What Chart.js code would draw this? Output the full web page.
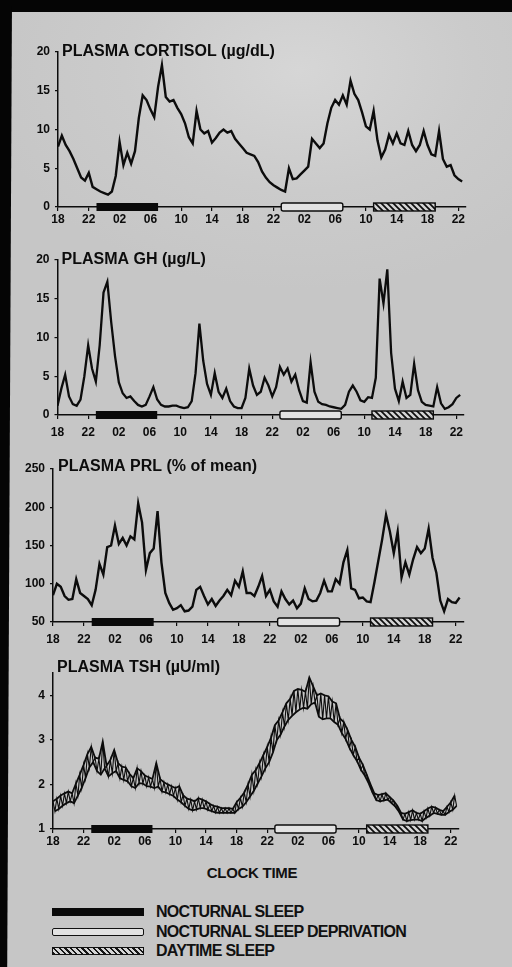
<!DOCTYPE html>
<html>
<head>
<meta charset="utf-8">
<title>Plasma hormone profiles</title>
<script src="https://cdn.jsdelivr.net/npm/chart.js@4.4.0/dist/chart.umd.min.js"></script>
<style>
  html, body { margin: 0; padding: 0; }
  body {
    width: 512px; height: 967px; position: relative; overflow: hidden;
    background: radial-gradient(ellipse 320px 220px at 300px 70px, #d6d6d6 0%, #cbcbcb 55%, rgba(199,199,199,0) 100%), #c6c6c6;
    font-family: "Liberation Sans", Arial, sans-serif; color: #111;
  }
  .frame { position: absolute; background: #050505; }
  canvas.panel { position: absolute; left: 0; }
  #clockTime {
    position: absolute; left: 152px; width: 200px; top: 864px;
    text-align: center; font-weight: bold; font-size: 15px; letter-spacing: -0.3px;
  }
  .legend-row { position: absolute; left: 52px; height: 20px; }
  .legend-row .swatch {
    position: absolute; left: 0; top: 6px; width: 92px; height: 8px; box-sizing: border-box;
  }
  .legend-row .label {
    position: absolute; left: 104px; top: 0; line-height: 20px; white-space: nowrap;
    font-weight: bold; font-size: 16px; letter-spacing: -0.7px;
  }
  .sw-night { background: #0a0a0a; }
  .sw-deprived { background: #e2e2e2; border: 1.5px solid #111; border-radius: 2px; }
  .sw-day { border: 1.5px solid #111; background: repeating-linear-gradient(45deg, #151515 0 1.6px, #d4d4d4 1.6px 4px); }
</style>
</head>
<body>
<div class="frame" style="left:0;top:0;width:512px;height:12px"></div>
<div class="frame" style="left:0;top:0;width:12px;height:967px;clip-path:polygon(0 0,100% 0,60% 100%,0 100%)"></div>

<canvas id="cortisol" class="panel" width="512" height="192" style="top:38px"></canvas>
<canvas id="gh" class="panel" width="512" height="194" style="top:246px"></canvas>
<canvas id="prl" class="panel" width="512" height="190" style="top:455px"></canvas>
<canvas id="tsh" class="panel" width="512" height="194" style="top:656px"></canvas>

<div id="clockTime">CLOCK TIME</div>
<div id="legend"></div>

<script>
// hours since 18:00 on the first evening, one sample every half hour
const SAMPLE_STEP_H = 0.5;
const X_MAX_H = 53;

const TICK_HOURS = [0, 4, 8, 12, 16, 20, 24, 28, 32, 36, 40, 44, 48, 52];
const CLOCK_LABELS = ['18', '22', '02', '06', '10', '14', '18', '22', '02', '06', '10', '14', '18', '22'];

// sleep condition bars along the time axis
const SLEEP_START = [5, 29, 41];
const SLEEP_END = [13, 37, 49];
const SLEEP_KIND = ['night', 'deprived', 'day'];
const LEGEND_LABELS = ['NOCTURNAL SLEEP', 'NOCTURNAL SLEEP DEPRIVATION', 'DAYTIME SLEEP'];

const TITLES = ['PLASMA CORTISOL (\u00b5g/dL)', 'PLASMA GH (\u00b5g/L)', 'PLASMA PRL (% of mean)', 'PLASMA TSH (\u00b5U/ml)'];

const CORTISOL_TICKS = [0, 5, 10, 15, 20];
const GH_TICKS = [0, 5, 10, 15, 20];
const PRL_TICKS = [50, 100, 150, 200, 250];
const TSH_TICKS = [1, 2, 3, 4];

const CORTISOL = [
  7.8, 9.2, 8.0, 7.2, 6.2, 5.0, 3.8, 3.4, 4.4, 2.6,
  2.3, 2.0, 1.8, 1.6, 2.0, 4.0, 8.4, 5.4, 7.0, 5.6,
  7.2, 11.5, 14.4, 13.8, 12.6, 11.6, 15.5, 18.3, 14.2, 13.6,
  13.8, 12.8, 12.0, 10.8, 9.0, 8.2, 12.4, 10.0, 9.5, 9.8,
  8.3, 8.9, 9.6, 10.0, 9.6, 9.8, 8.8, 8.2, 7.6, 7.0,
  6.8, 6.6, 5.8, 4.6, 3.8, 3.2, 2.8, 2.5, 2.2, 2.0,
  5.0, 3.6, 3.7, 4.2, 4.7, 5.2, 8.8, 8.2, 7.6, 8.2,
  10.8, 12.8, 13.8, 13.2, 14.4, 13.2, 16.3, 14.6, 13.8, 12.2,
  10.4, 10.0, 12.4, 8.6, 6.4, 7.4, 9.3, 8.2, 9.5, 8.2,
  8.0, 9.8, 8.0, 7.2, 8.0, 9.8, 8.0, 6.8, 6.6, 9.8,
  6.2, 5.2, 5.4, 4.1, 3.6, 3.3
];

const GH = [
  1.2, 3.4, 5.2, 2.4, 1.4, 1.2, 2.0, 5.0, 9.0, 6.0,
  4.3, 9.0, 15.8, 17.2, 12.0, 7.6, 4.2, 2.8, 2.2, 2.4,
  1.8, 1.3, 1.1, 1.3, 2.4, 3.6, 2.0, 1.3, 1.1, 1.1,
  1.2, 1.2, 1.0, 0.9, 1.0, 1.8, 5.4, 11.8, 7.0, 4.0,
  2.6, 5.4, 3.0, 2.2, 3.4, 1.8, 1.1, 0.9, 0.9, 2.2,
  6.0, 3.8, 2.6, 3.0, 4.8, 3.8, 2.4, 3.6, 6.2, 5.2,
  6.0, 4.3, 5.2, 3.2, 1.8, 1.6, 6.8, 3.0, 1.7, 1.4,
  1.3, 1.1, 1.0, 0.9, 0.8, 1.3, 3.0, 3.8, 3.0, 1.9,
  1.7, 2.3, 2.2, 4.8, 17.6, 14.4, 18.8, 8.0, 3.4, 1.8,
  4.3, 2.2, 2.6, 6.6, 3.2, 1.7, 1.3, 1.2, 1.1, 3.6,
  1.5, 0.8, 1.0, 1.4, 2.2, 2.6
];

const PRL = [
  85, 100, 96, 84, 79, 80, 106, 88, 84, 80,
  72, 92, 126, 112, 148, 150, 176, 152, 160, 150,
  162, 158, 205, 180, 118, 140, 146, 195, 128, 88,
  75, 66, 68, 72, 64, 65, 70, 92, 96, 84,
  73, 80, 71, 78, 84, 92, 85, 104, 96, 116,
  88, 88, 84, 96, 110, 84, 92, 77, 70, 90,
  80, 73, 78, 68, 74, 94, 80, 77, 78, 88,
  104, 90, 90, 106, 100, 128, 144, 94, 92, 81,
  82, 77, 76, 102, 130, 158, 190, 168, 140, 168,
  108, 128, 112, 132, 148, 140, 146, 172, 134, 114,
  78, 64, 80, 76, 75, 82
];

// TSH pulses: top and bottom of each half-hour swing
const TSH_HIGH = [
  1.62, 1.68, 1.75, 1.80, 1.84, 1.80, 2.02, 2.22, 2.44, 2.68,
  2.84, 2.60, 2.58, 2.96, 2.42, 2.55, 2.77, 2.48, 2.40, 2.38,
  2.24, 2.14, 2.36, 2.30, 2.20, 2.16, 2.12, 2.48, 2.12, 2.05,
  2.00, 1.96, 1.92, 1.96, 1.76, 1.68, 1.66, 1.62, 1.69, 1.66,
  1.62, 1.56, 1.52, 1.50, 1.47, 1.47, 1.47, 1.45, 1.60, 1.70,
  1.82, 2.00, 2.22, 2.32, 2.48, 2.66, 2.84, 3.05, 3.33, 3.44,
  3.62, 3.82, 3.92, 4.10, 4.14, 4.12, 4.08, 4.40, 4.20, 4.00,
  4.04, 4.00, 3.98, 3.86, 3.82, 3.48, 3.40, 3.22, 3.00, 2.84,
  2.60, 2.44, 2.22, 2.00, 1.80, 1.76, 1.78, 1.80, 1.72, 1.64,
  1.52, 1.36, 1.34, 1.38, 1.42, 1.36, 1.34, 1.40, 1.46, 1.50,
  1.48, 1.43, 1.40, 1.50, 1.60, 1.75
];
const TSH_LOW = [
  1.40, 1.45, 1.52, 1.58, 1.62, 1.58, 1.75, 1.92, 2.14, 2.38,
  2.50, 2.30, 2.22, 2.36, 2.18, 2.25, 2.30, 2.14, 2.10, 2.07,
  1.96, 1.92, 2.03, 2.02, 1.96, 1.95, 1.92, 1.95, 1.84, 1.82,
  1.78, 1.74, 1.66, 1.60, 1.52, 1.45, 1.42, 1.44, 1.47, 1.47,
  1.43, 1.40, 1.37, 1.36, 1.36, 1.36, 1.36, 1.36, 1.45, 1.50,
  1.60, 1.73, 1.86, 2.02, 2.18, 2.36, 2.50, 2.72, 3.00, 3.12,
  3.30, 3.45, 3.54, 3.62, 3.68, 3.72, 3.70, 3.80, 3.84, 3.52,
  3.46, 3.48, 3.48, 3.40, 3.34, 3.15, 3.02, 2.82, 2.66, 2.52,
  2.33, 2.20, 2.03, 1.82, 1.65, 1.62, 1.64, 1.66, 1.58, 1.50,
  1.38, 1.21, 1.18, 1.20, 1.21, 1.21, 1.18, 1.25, 1.30, 1.36,
  1.34, 1.32, 1.32, 1.38, 1.43, 1.52
];

const INK = '#0c0c0c';
const FONT = '"Liberation Sans", Arial, sans-serif';

function toPoints(values, offset = 0) {
  return values.map((v, i) => ({ x: i * SAMPLE_STEP_H + offset, y: v }));
}

// high sample on the half hour, low sample a quarter hour later
function swingPoints(high, low) {
  const pts = [];
  high.forEach((v, i) => {
    pts.push({ x: i * SAMPLE_STEP_H, y: v });
    pts.push({ x: i * SAMPLE_STEP_H + SAMPLE_STEP_H / 2, y: low[i] });
  });
  return pts;
}

function lineSet(points, width) {
  return { data: points, borderColor: INK, borderWidth: width, pointRadius: 0, tension: 0, borderJoinStyle: 'miter' };
}

function hatchPattern(ctx) {
  const w = 6;
  const c = document.createElement('canvas');
  c.width = w; c.height = w;
  const g = c.getContext('2d');
  g.fillStyle = '#d4d4d4';
  g.fillRect(0, 0, w, w);
  g.strokeStyle = INK;
  g.lineWidth = 1.7;
  g.beginPath();
  g.moveTo(0, 0); g.lineTo(w, w);
  g.moveTo(-1, w - 1); g.lineTo(1, w + 1);
  g.moveTo(w - 1, -1); g.lineTo(w + 1, 1);
  g.stroke();
  return ctx.createPattern(c, 'repeat');
}

// title text and the sleep bars sitting on the time axis
const panelExtras = {
  id: 'panelExtras',
  afterDraw(chart, args, opts) {
    const { ctx, chartArea } = chart;
    const x = chart.scales.x;
    const yAxis = chartArea.bottom;
    const h = 8;
    ctx.save();
    SLEEP_START.forEach((from, i) => {
      const x1 = x.getPixelForValue(from);
      const x2 = x.getPixelForValue(SLEEP_END[i]);
      const kind = SLEEP_KIND[i];
      ctx.lineWidth = 1.4;
      ctx.strokeStyle = INK;
      if (kind === 'night') {
        ctx.fillStyle = '#0a0a0a';
        ctx.fillRect(x1, yAxis - h / 2, x2 - x1, h);
      } else if (kind === 'deprived') {
        ctx.fillStyle = '#e2e2e2';
        ctx.beginPath();
        ctx.roundRect(x1, yAxis - h / 2, x2 - x1, h, 2);
        ctx.fill();
        ctx.stroke();
      } else {
        ctx.fillStyle = hatchPattern(ctx);
        ctx.fillRect(x1, yAxis - h / 2, x2 - x1, h);
        ctx.strokeRect(x1, yAxis - h / 2, x2 - x1, h);
      }
    });
    ctx.fillStyle = INK;
    ctx.font = 'bold 16px ' + FONT;
    ctx.textBaseline = 'middle';
    ctx.textAlign = 'left';
    ctx.fillText(opts.title, chartArea.left + opts.dx, chartArea.top + opts.dy);
    ctx.restore();
  }
};

function makePanel(id, p) {
  return new Chart(document.getElementById(id), {
    type: 'line',
    data: { datasets: p.datasets },
    options: {
      responsive: false,
      animation: false,
      events: [],
      layout: { padding: { top: p.padTop, right: p.padRight, left: 0, bottom: 0 } },
      plugins: {
        legend: { display: false },
        tooltip: { enabled: false },
        panelExtras: { title: p.title, dx: p.titleDx, dy: p.titleDy }
      },
      scales: {
        x: {
          type: 'linear',
          min: 0,
          max: X_MAX_H,
          afterBuildTicks: s => { s.ticks = TICK_HOURS.map(v => ({ value: v })); },
          afterFit: s => { s.height = p.xHeight; },
          border: { display: true, color: INK, width: 1.5 },
          grid: { drawOnChartArea: false, drawTicks: true, tickLength: 4, color: INK, lineWidth: 1.2 },
          ticks: {
            autoSkip: false,
            maxRotation: 0,
            padding: p.xPad,
            color: INK,
            font: { family: FONT, size: 12, weight: 'bold' },
            callback: v => CLOCK_LABELS[TICK_HOURS.indexOf(v)]
          }
        },
        y: {
          min: p.yMin,
          max: p.yMax,
          afterBuildTicks: s => { s.ticks = p.yTicks.map(v => ({ value: v })); },
          afterFit: s => { s.width = p.left; },
          border: { display: true, color: INK, width: 1.5 },
          grid: { drawOnChartArea: false, drawTicks: true, tickLength: 3, color: INK, lineWidth: 1.2 },
          ticks: {
            padding: 5,
            color: INK,
            font: { family: FONT, size: 12, weight: 'bold' }
          }
        }
      }
    },
    plugins: [panelExtras]
  });
}

makePanel('cortisol', {
  datasets: [lineSet(toPoints(CORTISOL), 2.4)], title: TITLES[0], titleDx: 4, titleDy: 0,
  padTop: 14, padRight: 46, left: 58, xHeight: 23, xPad: 1,
  yMin: 0, yMax: 20, yTicks: CORTISOL_TICKS
});
makePanel('gh', {
  datasets: [lineSet(toPoints(GH), 2.3)], title: TITLES[1], titleDx: 4, titleDy: 0,
  padTop: 14, padRight: 48, left: 57.5, xHeight: 25, xPad: 6,
  yMin: 0, yMax: 20, yTicks: GH_TICKS
});
makePanel('prl', {
  datasets: [lineSet(toPoints(PRL), 2.4)], title: TITLES[2], titleDx: 5, titleDy: -2,
  padTop: 14, padRight: 48.5, left: 53, xHeight: 23, xPad: 6,
  yMin: 50, yMax: 250, yTicks: PRL_TICKS
});
// TSH: the pulse swings plus heavier upper and lower edges of the band
makePanel('tsh', {
  datasets: [
    lineSet(swingPoints(TSH_HIGH, TSH_LOW), 1.1),
    lineSet(toPoints(TSH_HIGH), 1.8),
    lineSet(toPoints(TSH_LOW, SAMPLE_STEP_H / 2), 1.8)
  ],
  title: TITLES[3], titleDx: 4, titleDy: -5,
  padTop: 17, padRight: 53.5, left: 53, xHeight: 21, xPad: 1,
  yMin: 1, yMax: 4.5, yTicks: TSH_TICKS
});

// legend rows below the clock time label
const legend = document.getElementById('legend');
const LEGEND_TOPS = [902, 922, 941];
LEGEND_LABELS.forEach((text, i) => {
  const row = document.createElement('div');
  row.className = 'legend-row';
  row.style.top = LEGEND_TOPS[i] + 'px';
  row.innerHTML = '<div class="swatch sw-' + SLEEP_KIND[i] + '"></div><div class="label">' + text + '</div>';
  legend.appendChild(row);
});
</script>
</body>
</html>
